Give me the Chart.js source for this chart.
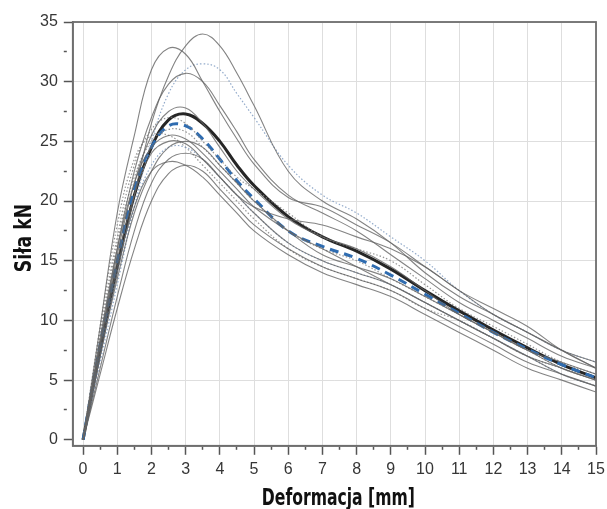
<!DOCTYPE html>
<html>
<head>
<meta charset="utf-8">
<script src="https://cdn.jsdelivr.net/npm/chart.js@4"></script>
<style>
  html, body { margin: 0; padding: 0; background: #fff; }
  #wrap { width: 607px; height: 509px; position: relative; }
</style>
</head>
<body>
<div id="wrap"><canvas id="forceChart"></canvas></div>
<script>
// deformation samples [mm], shared by every curve
const deformation = [0, 0.5, 1, 1.5, 2, 2.5, 3, 3.5, 4, 4.5, 5, 6, 7, 8, 9, 10, 11, 12, 13, 14, 15];

// individual test curves (solid gray)
const test1  = [0, 7, 14, 20.5, 26.5, 30.5, 33, 34, 33, 30.7, 28, 22.5, 20, 18.5, 16.5, 14, 12, 10.5, 9, 7.5, 6];
const test2  = [0, 9.5, 19, 25.5, 31, 32.8, 32.3, 30, 27.5, 25.2, 23.1, 20.3, 19.5, 18, 16.5, 14.5, 12.5, 10.5, 9, 7.5, 6.5];
const test3  = [0, 8, 16, 22.5, 27, 29.8, 30.7, 30, 28, 25.8, 23.5, 20.5, 19, 17.5, 15.5, 13.5, 11.5, 10, 8.5, 7, 6];
const test4  = [0, 8, 15.5, 21.5, 25.5, 27.5, 27.8, 26.5, 24.5, 22.5, 21, 18.5, 17, 16, 14.5, 12.5, 10.5, 9, 7.5, 6.5, 5.5];
const test5  = [0, 8.5, 16, 21.5, 24.5, 25.5, 25.2, 24, 22.5, 21, 19.5, 17.5, 16, 14.5, 13, 11.5, 10, 8.5, 7, 6, 5];
const test6  = [0, 7, 13.5, 19, 22.5, 24.5, 25, 24.5, 23, 21.5, 20, 17.5, 15.5, 14.5, 13.5, 12, 10.5, 9, 7.5, 6, 5];
const test7  = [0, 6, 12, 17.5, 21.5, 23.5, 24, 23.5, 22, 20.5, 19, 16.5, 15, 14, 13, 11.5, 10, 8.5, 7, 5.5, 4.5];
const test8  = [0, 7.5, 14.5, 19.5, 22.5, 23.3, 23, 22, 20.5, 19, 17.5, 15.5, 14, 13, 12, 10.5, 9, 7.5, 6, 5, 4];
const test9  = [0, 5.5, 11, 16, 20, 22.3, 23, 22.5, 21, 19.5, 18, 16, 14.5, 13.5, 12.5, 11, 9.5, 8, 6.5, 5.5, 4.5];
const test10 = [0, 8, 15, 20.5, 24, 25, 24.8, 23.5, 22, 20.5, 19.5, 18.5, 18, 17, 16, 14.5, 12.5, 11, 9.5, 7.5, 6];

// dotted test curves
const dotted1 = [0, 9, 17, 23, 26, 27, 26.5, 25, 23.5, 22, 21, 19, 17, 16, 15, 13, 11, 9.5, 8, 6.5, 5.5];
const dotted2 = [0, 6.5, 13, 19.5, 25, 29, 31, 31.5, 31, 29, 27, 23, 20.5, 19, 17, 15, 12.5, 10.5, 9, 7.5, 6.5];
const dotted3 = [0, 8.5, 16.5, 22, 25, 26, 25.8, 24.5, 23, 21.5, 20, 17.5, 16, 15, 13.5, 12, 10.5, 9, 7.5, 6, 5];
const dotted4 = [0, 7, 14, 19.5, 23, 24.5, 24.5, 23.5, 22, 20.5, 19, 16.5, 15, 14, 13, 11.5, 10, 8.5, 7, 5.5, 4.5];
const dotted5 = [0, 9.5, 18, 23.5, 25.5, 25.5, 24.5, 23, 21.5, 20, 18.5, 16, 14.5, 13.5, 12.5, 11, 10, 8.5, 7, 6, 5];

// averaged curves
const meanCurve = [0, 7.5, 14.5, 20.5, 24.5, 26.8, 27.3, 26.5, 25, 23, 21.3, 18.7, 17, 15.8, 14.3, 12.5, 10.8, 9.2, 7.7, 6.3, 5.2];
const blueCurve = [0, 8, 15, 21, 24.5, 26.3, 26.3, 25.2, 23.5, 21.7, 20.2, 17.5, 16.2, 15.2, 13.8, 12.2, 10.6, 9, 7.6, 6.3, 5.2];

const xTicks = [0, 1, 2, 3, 4, 5, 6, 7, 8, 9, 10, 11, 12, 13, 14, 15];
const yTicks = [0, 5, 10, 15, 20, 25, 30, 35];
const xTitle = 'Deformacja [mm]';
const yTitle = 'Siła kN';

const toPoints = ys => ys.map((y, i) => ({ x: deformation[i], y: y }));

const solidTests = [test1, test2, test3, test4, test5, test6, test7, test8, test9, test10];
const dottedTests = [dotted1, dotted2, dotted3, dotted4, dotted5];

const datasets = [];
solidTests.forEach(s => datasets.push({
  data: toPoints(s), borderColor: 'rgba(100,100,100,0.8)', borderWidth: 1.1,
  pointRadius: 0, tension: 0.4, fill: false
}));
dottedTests.forEach((s, i) => datasets.push({
  data: toPoints(s), borderColor: i % 2 ? 'rgba(120,150,190,0.8)' : 'rgba(130,130,130,0.85)',
  borderWidth: 1.2, borderDash: [1.5, 2], pointRadius: 0, tension: 0.4, fill: false
}));
datasets.push({
  data: toPoints(blueCurve), borderColor: '#2f6cb0', borderWidth: 3, borderDash: [9, 6],
  pointRadius: 0, tension: 0.4, fill: false
});
datasets.push({
  data: toPoints(meanCurve), borderColor: '#262626', borderWidth: 3,
  pointRadius: 0, tension: 0.4, fill: false
});

// frame around the plot area + condensed axis titles
const frame = {
  id: 'frame',
  afterDatasetsDraw(chart) {
    const a = chart.chartArea, c = chart.ctx;
    c.save();
    c.strokeStyle = '#6e6e6e';
    c.lineWidth = 1.8;
    c.strokeRect(a.left, a.top, a.right - a.left, a.bottom - a.top);
    c.restore();
  },
  afterDraw(chart) {
    const a = chart.chartArea, c = chart.ctx;
    c.save();
    c.fillStyle = '#111';
    c.font = "bold 23px 'DejaVu Sans', sans-serif";
    c.textAlign = 'center';
    c.textBaseline = 'alphabetic';
    c.translate((a.left + a.right) / 2 + 4, 505);
    c.scale(0.68, 1);
    c.fillText(xTitle, 0, 0);
    c.restore();

    c.save();
    c.fillStyle = '#111';
    c.font = "bold 23px 'DejaVu Sans', sans-serif";
    c.textAlign = 'center';
    c.textBaseline = 'alphabetic';
    c.translate(31, 238);
    c.rotate(-Math.PI / 2);
    c.scale(0.75, 1);
    c.fillText(yTitle, 0, 0);
    c.restore();
  }
};

const tickFont = { family: "'Liberation Sans', Arial, sans-serif", size: 16 };
// minor ticks are drawn short by dashing the tick line from the axis outward
const minorDash = [3, 100];

new Chart(document.getElementById('forceChart').getContext('2d'), {
  type: 'line',
  data: { datasets: datasets },
  plugins: [frame],
  options: {
    responsive: true,
    maintainAspectRatio: false,
    animation: false,
    layout: { padding: { top: 22, right: 11, left: 34, bottom: 25 } },
    plugins: { legend: { display: false }, tooltip: { enabled: false } },
    scales: {
      x: {
        type: 'linear', min: -0.3, max: 15,
        afterBuildTicks: axis => {
          const t = [];
          for (let v = 0; v <= 15; v += 0.5) t.push({ value: v });
          axis.ticks = t;
        },
        // let the last label overhang into the right margin
        afterFit: axis => { axis.paddingRight = 0; },
        ticks: {
          autoSkip: false, maxRotation: 0, color: '#363636', font: tickFont, padding: 5,
          callback: v => xTicks.includes(v) ? String(v) : ''
        },
        grid: {
          color: c => (c.tick && xTicks.includes(c.tick.value)) ? '#dedede' : 'rgba(0,0,0,0)',
          tickColor: '#555', tickLength: 9, lineWidth: 1, tickWidth: 1.5,
          tickBorderDash: c => (c.tick && xTicks.includes(c.tick.value)) ? [] : minorDash
        },
        border: { color: '#6e6e6e', width: 1.8 }
      },
      y: {
        type: 'linear', min: -0.5, max: 35,
        afterBuildTicks: axis => {
          const t = [];
          for (let v = 0; v <= 35; v += 2.5) t.push({ value: v });
          axis.ticks = t;
        },
        ticks: {
          autoSkip: false, color: '#363636', font: tickFont, padding: 6,
          callback: v => yTicks.includes(v) ? String(v) : ''
        },
        grid: {
          color: c => (c.tick && yTicks.includes(c.tick.value) && c.tick.value > 0) ? '#dedede' : 'rgba(0,0,0,0)',
          tickColor: '#555', tickLength: 9, lineWidth: 1, tickWidth: 1.5,
          tickBorderDash: c => (c.tick && yTicks.includes(c.tick.value)) ? [] : minorDash
        },
        border: { color: '#6e6e6e', width: 1.8 }
      }
    }
  }
});
</script>
</body>
</html>
